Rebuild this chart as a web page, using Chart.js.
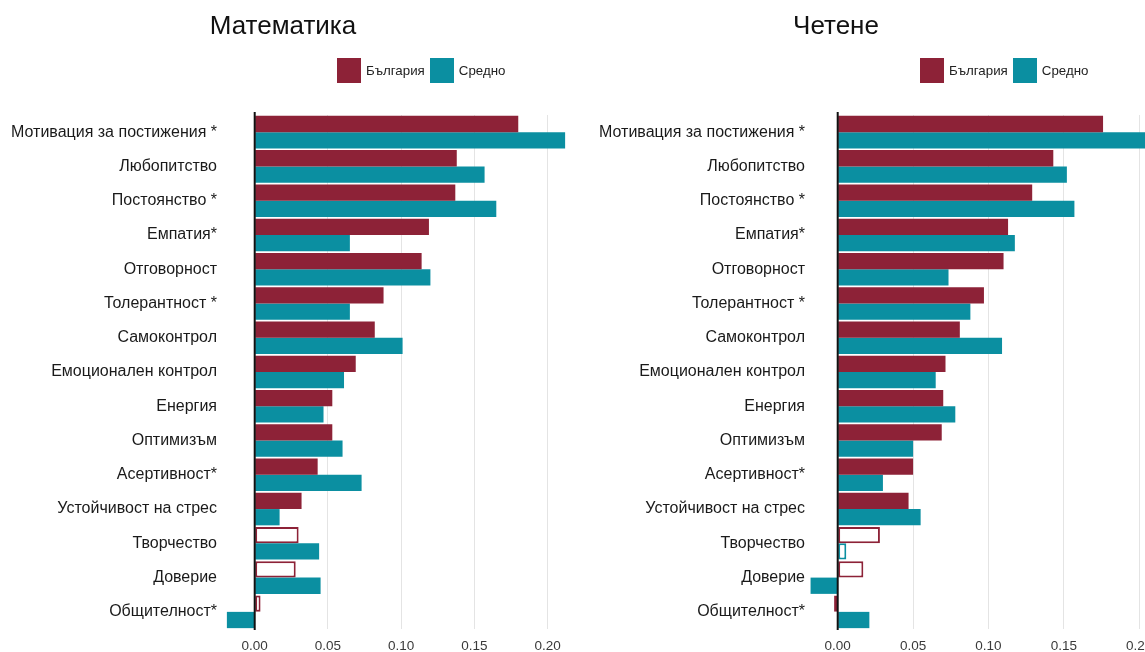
<!DOCTYPE html>
<html>
<head>
<meta charset="utf-8">
<script src="https://cdn.jsdelivr.net/npm/chart.js@4/dist/chart.umd.min.js"></script>
<style>
  html, body { margin: 0; padding: 0; background: #fff; }
  body { width: 1145px; height: 652px; overflow: hidden; position: relative; font-family: "Liberation Sans", Arial, Helvetica, sans-serif; }
  .panel { position: absolute; top: 0; height: 652px; }
  .title { position: absolute; font-size: 26px; color: #111; white-space: nowrap; transform: translateX(-50%); top: 10px; }
  .legend { position: absolute; top: 58px; display: flex; align-items: center; font-size: 13.3px; color: #222; }
  .legend .box { width: 24px; height: 25px; margin-right: 5px; }
  .legend .item { display: flex; align-items: center; margin-right: 5px; }
</style>
</head>
<body>
<div class="panel" style="left:0;width:580px;"><canvas id="c1" width="580" height="652"></canvas></div>
<div class="panel" style="left:580px;width:600px;"><canvas id="c2" width="600" height="652"></canvas></div>
<div class="title" style="left:283px;">Математика</div>
<div class="title" style="left:836px;">Четене</div>
<div class="legend" id="lg1" style="left:337px;"></div>
<div class="legend" id="lg2" style="left:920px;"></div>
<script>
const categories = [
  'Мотивация за постижения *', 'Любопитство', 'Постоянство *', 'Емпатия*', 'Отговорност',
  'Толерантност *', 'Самоконтрол', 'Емоционален контрол', 'Енергия', 'Оптимизъм',
  'Асертивност*', 'Устойчивост на стрес', 'Творчество', 'Доверие', 'Общителност*'
];
const seriesNames = ['България', 'Средно'];
const tickValues = [0, 0.05, 0.10, 0.15, 0.20];
const tickLabels = ['0.00', '0.05', '0.10', '0.15', '0.20'];

const mathBulgaria = [0.180, 0.138, 0.137, 0.119, 0.114, 0.088, 0.082, 0.069, 0.053, 0.053, 0.043, 0.032, 0.030, 0.028, 0.004];
const mathAverage  = [0.212, 0.157, 0.165, 0.065, 0.120, 0.065, 0.101, 0.061, 0.047, 0.060, 0.073, 0.017, 0.044, 0.045, -0.019];
const mathBulgariaSig = [1, 1, 1, 1, 1, 1, 1, 1, 1, 1, 1, 1, 0, 0, 0];
const mathAverageSig  = [1, 1, 1, 1, 1, 1, 1, 1, 1, 1, 1, 1, 1, 1, 1];

const readBulgaria = [0.176, 0.143, 0.129, 0.113, 0.110, 0.097, 0.081, 0.0715, 0.070, 0.069, 0.050, 0.047, 0.028, 0.017, -0.0024];
const readAverage  = [0.212, 0.152, 0.157, 0.1175, 0.0735, 0.088, 0.109, 0.065, 0.078, 0.050, 0.030, 0.055, 0.0057, -0.018, 0.021];
const readBulgariaSig = [1, 1, 1, 1, 1, 1, 1, 1, 1, 1, 1, 1, 0, 0, 0];
const readAverageSig  = [1, 1, 1, 1, 1, 1, 1, 1, 1, 1, 1, 1, 0, 1, 1];

const colors = ['#8d2237', '#0b8fa1'];

Chart.defaults.font.family = '"Liberation Sans", Arial, Helvetica, sans-serif';
Chart.defaults.animation = false;

const zeroLine = {
  id: 'zeroLine',
  afterDatasetsDraw(chart) {
    const x = chart.scales.x.getPixelForValue(0);
    const a = chart.chartArea;
    const ctx = chart.ctx;
    ctx.save();
    ctx.strokeStyle = '#111';
    ctx.lineWidth = 2;
    ctx.beginPath();
    ctx.moveTo(x, a.top - 3);
    ctx.lineTo(x, a.bottom + 1);
    ctx.stroke();
    ctx.restore();
  }
};

function makeDataset(label, values, sig, color) {
  return {
    label: label,
    data: values,
    backgroundColor: sig.map(s => s ? color : '#ffffff'),
    borderColor: color,
    borderWidth: sig.map(s => s ? 0 : 2),
    borderSkipped: false,
    categoryPercentage: 0.95,
    barPercentage: 1.0
  };
}

function makeChart(id, b, bs, a, as, xmin, xmax, yWidth, padRight) {
  return new Chart(document.getElementById(id), {
    type: 'bar',
    data: {
      labels: categories,
      datasets: [
        makeDataset(seriesNames[0], b, bs, colors[0]),
        makeDataset(seriesNames[1], a, as, colors[1])
      ]
    },
    options: {
      indexAxis: 'y',
      responsive: false,
      maintainAspectRatio: false,
      layout: { padding: { top: 115, left: 0, right: padRight, bottom: 0 } },
      plugins: { legend: { display: false }, tooltip: { enabled: false }, title: { display: false } },
      scales: {
        x: {
          min: xmin, max: xmax,
          afterBuildTicks: s => { s.ticks = tickValues.map(v => ({ value: v })); },
          afterFit: s => { s.height = 23; },
          grid: { color: '#e4e4e4', lineWidth: 1, drawTicks: false },
          border: { display: false },
          ticks: {
            padding: 9,
            color: '#3a3a3a',
            font: { size: 13.5 },
            callback: (v, i) => tickLabels[i]
          }
        },
        y: {
          afterFit: s => { s.width = yWidth; },
          grid: { display: false, drawTicks: false },
          border: { display: false },
          ticks: { padding: 3, color: '#1a1a1a', font: { size: 16 } }
        }
      }
    },
    plugins: [zeroLine]
  });
}

makeChart('c1', mathBulgaria, mathBulgariaSig, mathAverage, mathAverageSig, -0.0237, 0.2167, 220, 8);
makeChart('c2', readBulgaria, readBulgariaSig, readAverage, readAverageSig, -0.0197, 0.2204, 228, 10);

function buildLegend(id) {
  const el = document.getElementById(id);
  seriesNames.forEach((n, i) => {
    const item = document.createElement('div');
    item.className = 'item';
    const box = document.createElement('div');
    box.className = 'box';
    box.style.background = colors[i];
    const t = document.createElement('span');
    t.textContent = n;
    item.appendChild(box);
    item.appendChild(t);
    el.appendChild(item);
  });
}
buildLegend('lg1');
buildLegend('lg2');
</script>
</body>
</html>
